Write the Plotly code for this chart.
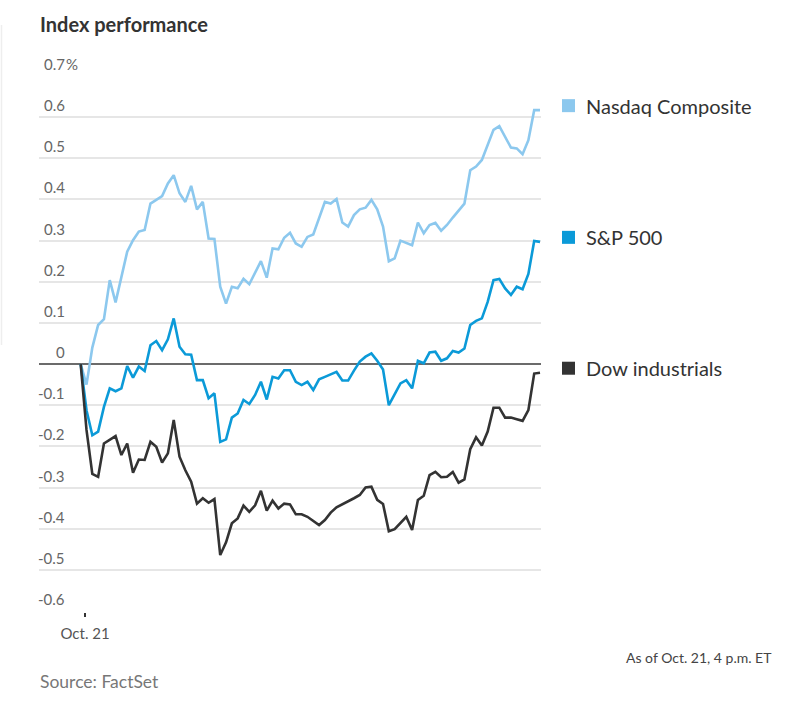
import plotly.graph_objects as go

# ---- data (5-minute steps through the Oct. 21 session) ----
steps = list(range(80))

nasdaq = [0.0, -0.05, 0.04, 0.095, 0.109, 0.204, 0.15, 0.21, 0.273, 0.301,
          0.322, 0.326, 0.39, 0.399, 0.408, 0.439, 0.459, 0.415, 0.394, 0.433,
          0.376, 0.394, 0.305, 0.304, 0.188, 0.147, 0.188, 0.184, 0.207, 0.194,
          0.224, 0.25, 0.21, 0.281, 0.279, 0.307, 0.319, 0.293, 0.285, 0.309,
          0.315, 0.354, 0.394, 0.39, 0.401, 0.344, 0.334, 0.362, 0.376, 0.38,
          0.399, 0.376, 0.334, 0.25, 0.257, 0.3, 0.295, 0.289, 0.344, 0.318,
          0.338, 0.343, 0.324, 0.338, 0.356, 0.373, 0.39, 0.471, 0.48, 0.496,
          0.532, 0.569, 0.578, 0.552, 0.526, 0.524, 0.51, 0.544, 0.617, 0.617]

sp500 = [0.0, -0.112, -0.173, -0.164, -0.104, -0.059, -0.066, -0.059, -0.005, -0.033,
         -0.006, -0.017, 0.046, 0.056, 0.034, 0.06, 0.111, 0.042, 0.024, 0.023,
         -0.039, -0.039, -0.083, -0.071, -0.189, -0.183, -0.13, -0.12, -0.087, -0.097,
         -0.075, -0.043, -0.086, -0.031, -0.035, -0.015, -0.015, -0.043, -0.051, -0.043,
         -0.063, -0.037, -0.031, -0.025, -0.019, -0.04, -0.04, -0.016, 0.006, 0.018,
         0.026, 0.008, -0.013, -0.1, -0.075, -0.047, -0.039, -0.059, 0.008, 0.002,
         0.028, 0.03, 0.008, 0.014, 0.032, 0.028, 0.038, 0.095, 0.105, 0.111,
         0.151, 0.204, 0.207, 0.184, 0.168, 0.188, 0.182, 0.219, 0.299, 0.297]

dow = [0.0, -0.16, -0.267, -0.274, -0.193, -0.183, -0.175, -0.221, -0.193, -0.264,
       -0.232, -0.233, -0.189, -0.201, -0.239, -0.217, -0.136, -0.225, -0.258, -0.286,
       -0.339, -0.326, -0.337, -0.328, -0.464, -0.433, -0.387, -0.375, -0.344, -0.359,
       -0.343, -0.308, -0.356, -0.332, -0.351, -0.339, -0.341, -0.365, -0.365, -0.371,
       -0.381, -0.391, -0.379, -0.361, -0.348, -0.341, -0.335, -0.326, -0.318, -0.3,
       -0.298, -0.33, -0.34, -0.406, -0.401, -0.385, -0.371, -0.403, -0.33, -0.32,
       -0.27, -0.262, -0.275, -0.274, -0.262, -0.288, -0.28, -0.207, -0.178, -0.198,
       -0.164, -0.106, -0.106, -0.13, -0.13, -0.134, -0.138, -0.112, -0.023, -0.021]

series_names = ["Nasdaq Composite", "S&P 500", "Dow industrials"]
series_values = [nasdaq, sp500, dow]
series_colors = ["#8cc8ee", "#0b9ad8", "#333333"]

y_tick_vals = [0.7, 0.6, 0.5, 0.4, 0.3, 0.2, 0.1, 0, -0.1, -0.2, -0.3, -0.4, -0.5, -0.6]
y_tick_text = ["0.7", "0.6", "0.5", "0.4", "0.3", "0.2", "0.1", "0", "-0.1", "-0.2",
               "-0.3", "-0.4", "-0.5", "-0.6"]
x_tick_vals = [0.75]
x_tick_text = ["Oct. 21"]

FONT = "Lato"
W, H = 800, 701
ML, MR, MT, MB = 39, 259, 75, 89
Y_RANGE = [-0.6024, 0.7024]
X_RANGE = [-7.17, 79.17]
PW, PH = W - ML - MR, H - MT - MB
px_per_y = PH / (Y_RANGE[1] - Y_RANGE[0])


def px_x(px):
    return (px - ML) / PW


def px_y(py):
    return (H - MB - py) / PH


fig = go.Figure()
for name, vals, col in zip(series_names, series_values, series_colors):
    fig.add_trace(go.Scatter(x=steps, y=vals, mode="lines", name=name,
                             line=dict(color=col, width=2.6), hoverinfo="skip",
                             showlegend=False))

# legend squares + labels placed next to the line ends
half = 6.5 / px_per_y
for name, vals, col in zip(series_names, series_values, series_colors):
    y_leg = vals[-1] + 4.5 / px_per_y
    fig.add_shape(type="rect", xref="paper", yref="y",
                  x0=px_x(562), x1=px_x(575), y0=y_leg - half, y1=y_leg + half,
                  fillcolor=col, line=dict(width=0))
    fig.add_annotation(x=px_x(584), y=y_leg, xref="paper", yref="y", text=name,
                       showarrow=False, xanchor="left", yanchor="middle",
                       font=dict(family=FONT, size=20, color="#333333"))

# y tick labels: sit above the gridlines, right-aligned
for v, t in zip(y_tick_vals, y_tick_text):
    fig.add_annotation(x=px_x(67), y=v, xref="paper", yref="y", text=t, showarrow=False,
                       xanchor="right", yanchor="bottom", yshift=1,
                       font=dict(family=FONT, size=15, color="#666666"))
fig.add_annotation(x=px_x(67), y=y_tick_vals[0], xref="paper", yref="y", text="%",
                   showarrow=False, xanchor="left", yanchor="bottom", yshift=1, xshift=-3,
                   font=dict(family=FONT, size=15, color="#666666"))

fig.add_annotation(x=px_x(38), y=px_y(24), xref="paper", yref="paper",
                   text="<b>Index performance</b>", showarrow=False,
                   xanchor="left", yanchor="middle",
                   font=dict(family=FONT, size=20, color="#333333"))
fig.add_annotation(x=px_x(774), y=px_y(657), xref="paper", yref="paper",
                   text="As of Oct. 21, 4 p.m. ET", showarrow=False,
                   xanchor="right", yanchor="middle",
                   font=dict(family=FONT, size=14, color="#444444"))
fig.add_annotation(x=px_x(38), y=px_y(681), xref="paper", yref="paper",
                   text="Source: FactSet", showarrow=False,
                   xanchor="left", yanchor="middle",
                   font=dict(family=FONT, size=17.5, color="#777777"))

fig.add_shape(type="line", xref="paper", yref="paper",
              x0=px_x(1.5), x1=px_x(1.5), y0=px_y(25), y1=px_y(345),
              line=dict(color="#eeeeee", width=1.5))

fig.update_layout(
    width=W, height=H, margin=dict(l=ML, r=MR, t=MT, b=MB),
    paper_bgcolor="white", plot_bgcolor="white",
    font=dict(family=FONT),
    xaxis=dict(range=X_RANGE, tickvals=x_tick_vals, ticktext=x_tick_text,
               showgrid=False, zeroline=False, showline=False,
               ticks="outside", ticklen=4, tickwidth=1.5, tickcolor="#333333",
               ticklabelstandoff=4,
               tickfont=dict(family=FONT, size=15, color="#555555")),
    yaxis=dict(range=Y_RANGE, tickvals=y_tick_vals, showticklabels=False,
               showgrid=True, gridcolor="#e6e6e6", gridwidth=1.5,
               zeroline=True, zerolinecolor="#6b6b6b", zerolinewidth=1.6,
               showline=False, ticks=""),
)

fig.write_html("out.html", config={"displayModeBar": False},
               post_script="document.body.style.margin='0';document.body.style.overflow='hidden';")
